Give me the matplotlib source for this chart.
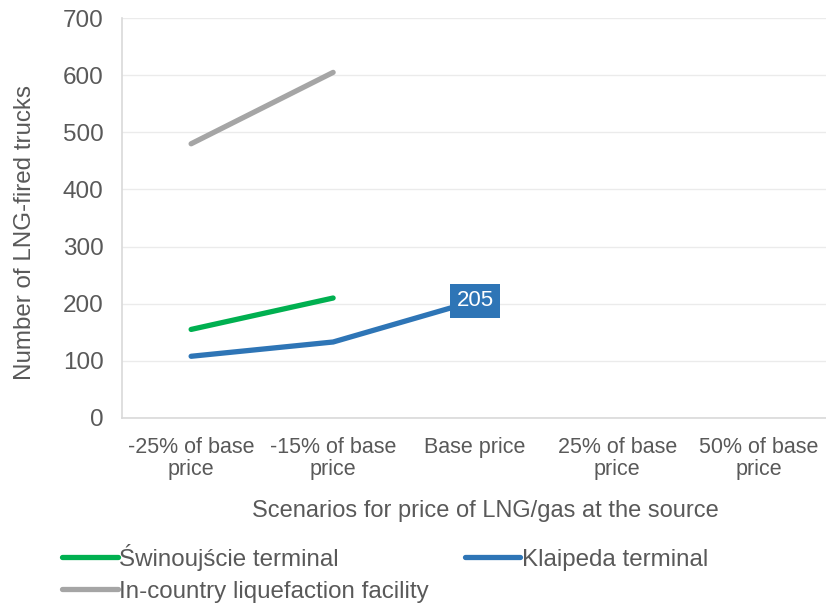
import matplotlib.pyplot as plt

plt.rcParams['font.family'] = ['Liberation Sans', 'DejaVu Sans']

scenarios = ["-25% of base\nprice", "-15% of base\nprice", "Base price",
             "25% of base\nprice", "50% of base\nprice"]
swinoujscie = [155, 210]
klaipeda = [108, 133, 205]
in_country = [480, 605]

text_col = "#595959"

fig = plt.figure(figsize=(8.26, 6.04), dpi=100)
ax = fig.add_axes([0.148, 0.308, 0.857, 0.662])

x = range(len(scenarios))
l_sw, = ax.plot(x[:len(swinoujscie)], swinoujscie, color="#00b050", lw=3.8,
                solid_capstyle="round", label="Świnoujście terminal")
l_kl, = ax.plot(x[:len(klaipeda)], klaipeda, color="#2e75b6", lw=3.8,
                solid_capstyle="round", label="Klaipeda terminal")
l_ic, = ax.plot(x[:len(in_country)], in_country, color="#a5a5a5", lw=3.8,
                solid_capstyle="round", label="In-country liquefaction facility")

# value label on the last Klaipeda point
ax.text(len(klaipeda) - 1, klaipeda[-1], str(klaipeda[-1]), color="white",
        fontsize=16, ha="center", va="center",
        bbox=dict(boxstyle="square,pad=0.3", fc="#2e75b6", ec="none"))

ax.set_xlim(-0.485, len(scenarios) - 0.5)
ax.set_ylim(0, 700)
ax.set_yticks(range(0, 701, 100))
ax.set_xticks(list(x))
ax.set_xticklabels(scenarios, fontsize=15.5, color=text_col, linespacing=1.05)
ax.tick_params(axis="y", labelsize=17.5, labelcolor=text_col, length=0, pad=13.5)
ax.tick_params(axis="x", length=0, pad=13.5)
ax.grid(axis="y", color="#ebebeb", lw=1)
ax.set_axisbelow(True)
for s in ["top", "right"]:
    ax.spines[s].set_visible(False)
for s in ["left", "bottom"]:
    ax.spines[s].set_color("#d9d9d9")
    ax.spines[s].set_linewidth(1.2)

ax.set_xlabel("Scenarios for price of LNG/gas at the source", fontsize=17,
              color=text_col)
ax.xaxis.set_label_coords(0.513, -0.205)
ax.set_ylabel("Number of LNG-fired trucks", fontsize=17.4, color=text_col)
ax.yaxis.set_label_coords(-0.122, 0.465)

fig.legend(handles=[l_sw, l_ic, l_kl], loc="upper left",
           bbox_to_anchor=(0.075, 0.1), ncol=2,
           frameon=False, fontsize=17.4, labelcolor=text_col,
           handlelength=2.3, handletextpad=0.05, columnspacing=1.5,
           labelspacing=0.42, borderaxespad=0, borderpad=0)

fig.savefig("out.png", dpi=100)
